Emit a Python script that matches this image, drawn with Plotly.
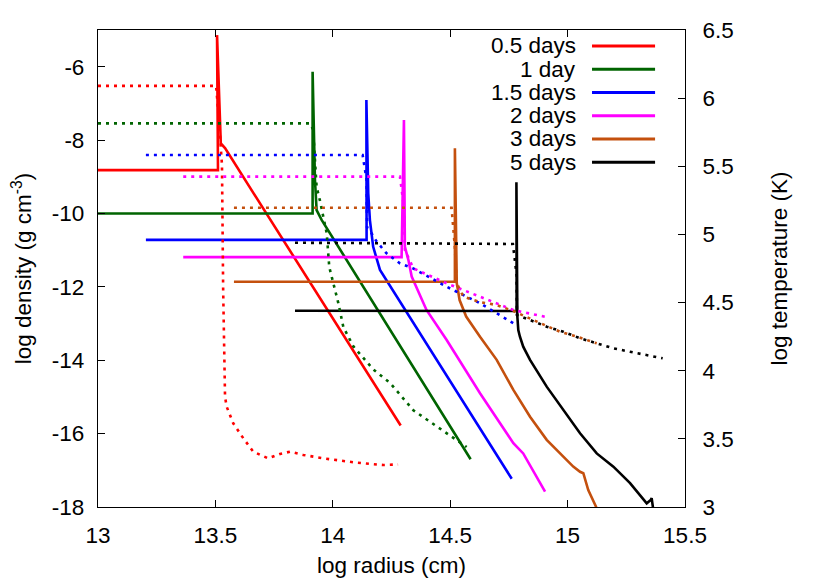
import plotly.graph_objects as go

labels = ["0.5 days", "1 day", "1.5 days", "2 days", "3 days", "5 days"]
colors = ["#ff0000", "#006400", "#0000ff", "#ff00ff", "#c4500e", "#000000"]

# ---- density (solid, left axis) and temperature (dotted, right axis) ----
# 0.5 days
rad_rho_05 = [13.0, 13.511, 13.507, 13.523, 13.541, 14.289]
rho_05 = [-8.82, -8.82, -5.14, -8.09, -8.22, -15.78]
rad_T_05 = [13.0, 13.503, 13.515, 13.528, 13.533, 13.541, 13.548, 13.576, 13.619,
            13.661, 13.725, 13.775, 13.818, 13.874, 13.960, 14.102, 14.215, 14.278]
T_05 = [6.09, 6.09, 5.84, 5.51, 4.60, 3.809, 3.736, 3.614, 3.504,
        3.406, 3.357, 3.389, 3.406, 3.382, 3.357, 3.325, 3.308, 3.312]

# 1 day
rad_rho_1 = [13.0, 13.914, 13.914, 13.920, 13.924, 13.931, 13.953, 14.587]
rho_1 = [-10.0, -10.0, -6.14, -8.54, -9.09, -9.91, -10.18, -16.70]
rad_T_1 = [13.0, 13.903, 13.916, 13.931, 13.945, 13.974, 13.985, 14.002, 14.023,
           14.045, 14.087, 14.172, 14.244, 14.343, 14.485, 14.570]
T_1 = [5.815, 5.815, 5.77, 5.35, 5.25, 5.01, 4.76, 4.64, 4.50,
       4.32, 4.18, 4.01, 3.91, 3.71, 3.54, 3.44]

# 1.5 days
rad_rho_15 = [13.204, 14.144, 14.143, 14.151, 14.158, 14.172, 14.201, 14.762]
rho_15 = [-10.72, -10.72, -6.91, -9.45, -10.18, -10.91, -11.54, -17.23]
rad_T_15 = [13.204, 14.127, 14.144, 14.146, 14.165, 14.187, 14.229, 14.286,
            14.343, 14.485, 14.627, 14.769]
T_15 = [5.583, 5.583, 5.40, 5.05, 5.008, 4.947, 4.861, 4.788,
        4.75, 4.616, 4.495, 4.348]

# 2 days
rad_rho_2 = [13.363, 14.293, 14.303, 14.307, 14.322, 14.336, 14.399, 14.485,
             14.627, 14.769, 14.811, 14.904]
rho_2 = [-11.19, -11.19, -7.45, -10.91, -11.27, -11.72, -12.63, -13.45,
         -14.90, -16.26, -16.54, -17.58]
rad_T_2 = [13.363, 14.286, 14.303, 14.307, 14.343, 14.485, 14.627, 14.769, 14.904]
T_2 = [5.424, 5.424, 5.20, 4.886, 4.751, 4.641, 4.543, 4.445, 4.396]

# 3 days
rad_rho_3 = [13.579, 14.520, 14.520, 14.525, 14.528, 14.540, 14.568, 14.627,
             14.698, 14.769, 14.840, 14.911, 14.982, 15.024, 15.053, 15.067,
             15.088, 15.121, 15.138]
rho_3 = [-11.86, -11.86, -8.22, -11.0, -11.90, -12.36, -12.81, -13.36,
         -13.99, -14.81, -15.54, -16.17, -16.63, -16.90, -17.04, -17.08,
         -17.54, -17.99, -18.35]
rad_T_3 = [13.579, 14.506, 14.520, 14.528, 14.556, 14.627, 14.698, 14.769,
           14.911, 14.968, 15.039, 15.124]
T_3 = [5.196, 5.196, 4.90, 4.641, 4.543, 4.504, 4.482, 4.438,
       4.328, 4.286, 4.250, 4.201]

# 5 days
rad_rho_5 = [13.839, 14.783, 14.782, 14.786, 14.790, 14.797, 14.811, 14.840,
             14.911, 14.982, 15.053, 15.124, 15.195, 15.266, 15.337, 15.354,
             15.358, 15.365]
rho_5 = [-12.65, -12.66, -9.15, -12.81, -13.18, -13.36, -13.63, -13.99,
         -14.72, -15.36, -15.99, -16.54, -16.90, -17.35, -17.90, -17.81,
         -17.76, -18.08]
rad_T_5 = [13.839, 14.767, 14.783, 14.784, 14.840, 14.911, 14.982, 15.053,
           15.124, 15.195, 15.266, 15.337, 15.405]
T_5 = [4.939, 4.930, 4.70, 4.409, 4.372, 4.323, 4.286, 4.238,
       4.201, 4.164, 4.139, 4.115, 4.091]

x_ticks = [13, 13.5, 14, 14.5, 15, 15.5]
x_ticklabels = ["13", "13.5", "14", "14.5", "15", "15.5"]
rho_ticks = [-18, -16, -14, -12, -10, -8, -6]
rho_ticklabels = ["-18", "-16", "-14", "-12", "-10", "-8", "-6"]
T_ticks = [3, 3.5, 4, 4.5, 5, 5.5, 6, 6.5]
T_ticklabels = ["3", "3.5", "4", "4.5", "5", "5.5", "6", "6.5"]

dens_series = [(rad_rho_05, rho_05), (rad_rho_1, rho_1), (rad_rho_15, rho_15),
               (rad_rho_2, rho_2), (rad_rho_3, rho_3), (rad_rho_5, rho_5)]
temp_series = [(rad_T_05, T_05), (rad_T_1, T_1), (rad_T_15, T_15),
               (rad_T_2, T_2), (rad_T_3, T_3), (rad_T_5, T_5)]

FONT = "Liberation Sans, Arial, Helvetica, sans-serif"
FS = 22.5

fig = go.Figure()
for (rx, ty), c, name in zip(temp_series, colors, labels):
    fig.add_trace(go.Scatter(x=rx, y=ty, mode="lines", yaxis="y2", name=name + " T",
                             line=dict(color=c, width=2.6, dash="3px,5px"),
                             showlegend=False))
for (rx, dy), c, name in zip(dens_series, colors, labels):
    fig.add_trace(go.Scatter(x=rx, y=dy, mode="lines", name=name,
                             line=dict(color=c, width=2.6),
                             showlegend=False))

# legend drawn gnuplot-style: right-aligned text, sample line to the right
shapes = []
annotations = []
for i, (name, c) in enumerate(zip(labels, colors)):
    yp = 0.9665 - i * 0.0487
    annotations.append(dict(xref="paper", yref="paper", x=0.8177, y=yp,
                            text=name, showarrow=False, xanchor="right",
                            yanchor="middle", font=dict(size=FS, color="black", family=FONT)))
    shapes.append(dict(type="line", xref="paper", yref="paper", x0=0.8416, x1=0.949,
                       y0=yp, y1=yp, line=dict(color=c, width=3)))

axis_common = dict(showgrid=False, zeroline=False, ticks="inside", ticklen=7,
                   tickwidth=1, tickcolor="black", showline=True, linecolor="black",
                   linewidth=1.2, automargin=False,
                   tickfont=dict(size=FS, family=FONT, color="black"))

# page has an 8px body margin, so the figure is sized to fit the window
fig.update_layout(
    width=822, height=573,
    margin=dict(l=90, r=145, t=22, b=74, autoexpand=False),
    paper_bgcolor="white", plot_bgcolor="white",
    font=dict(family=FONT, size=FS, color="black"),
    xaxis=dict(range=[13, 15.5], tickvals=x_ticks, ticktext=x_ticklabels,
               mirror="ticks", ticklabelstandoff=8,
               title=dict(text="log radius (cm)", standoff=10, font=dict(size=FS)),
               **axis_common),
    yaxis=dict(range=[-18, -5], tickvals=rho_ticks, ticktext=rho_ticklabels,
               mirror=True, ticklabelstandoff=8,
               title=dict(text="log density (g cm<sup>-3</sup>)", standoff=20,
                          font=dict(size=FS)),
               **axis_common),
    yaxis2=dict(range=[3, 6.5], tickvals=T_ticks, ticktext=T_ticklabels,
                overlaying="y", side="right", ticklabelstandoff=12,
                title=dict(text="log temperature (K)", standoff=38, font=dict(size=FS)),
                **axis_common),
    shapes=shapes,
    annotations=annotations,
    showlegend=False,
)

fig.write_html("out.html")
